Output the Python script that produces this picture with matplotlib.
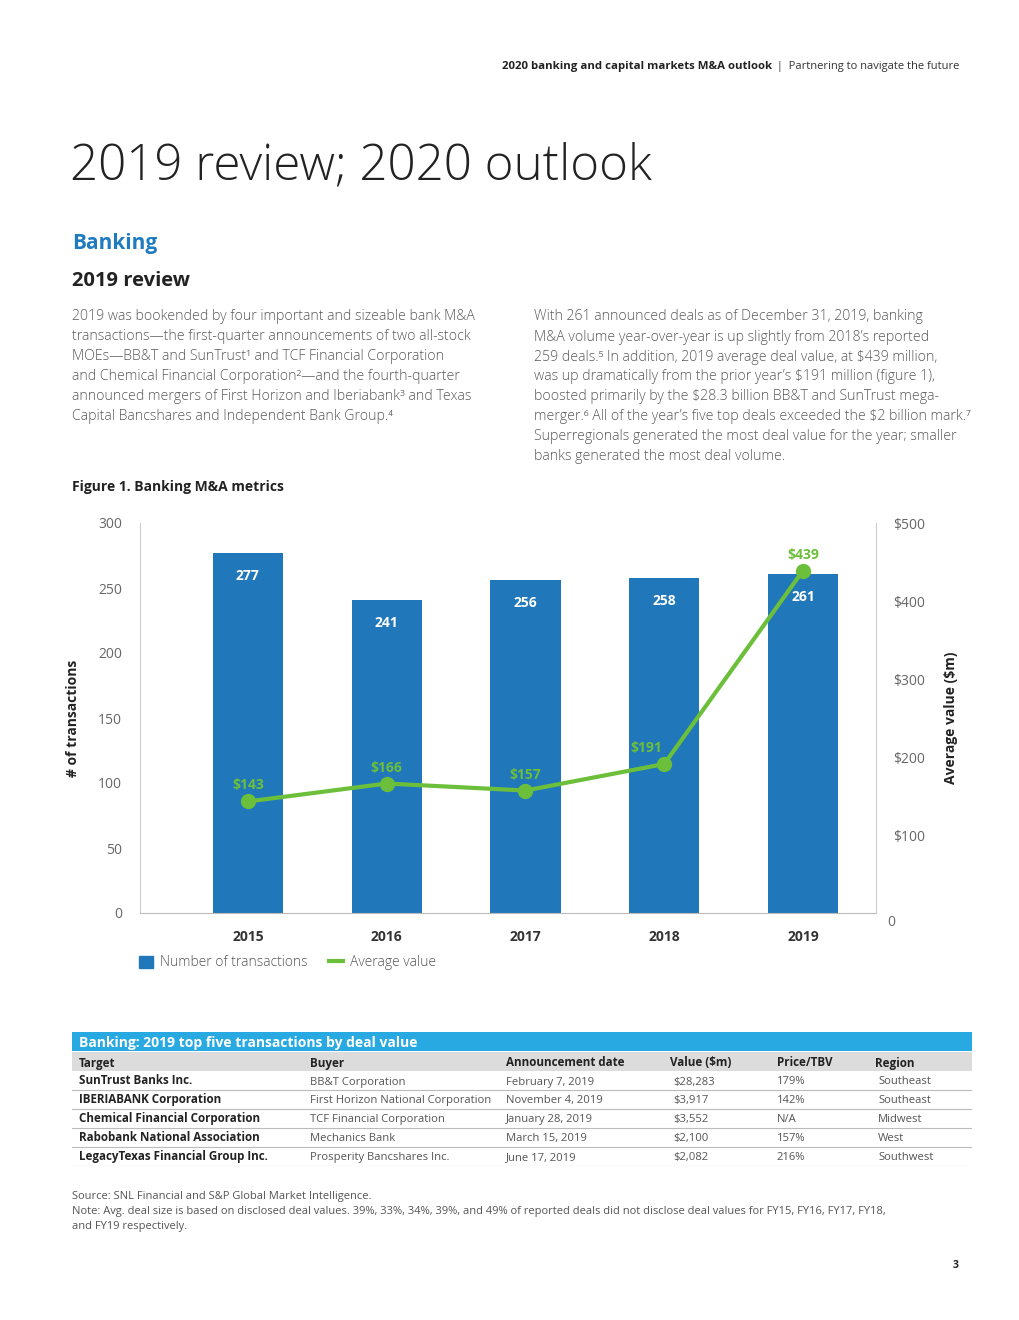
import matplotlib.pyplot as plt
from matplotlib.lines import Line2D
from matplotlib.patches import Rectangle
from matplotlib.transforms import offset_copy

plt.rcParams['font.family'] = ['Open Sans', 'DejaVu Sans']

# chart data
years = ['2015', '2016', '2017', '2018', '2019']
deals = [277, 241, 256, 258, 261]
avg_value = [143, 166, 157, 191, 439]
left_ticks = [0, 50, 100, 150, 200, 250, 300]
right_ticks = [100, 200, 300, 400, 500]

# table data
tbl_cols = ['Target', 'Buyer', 'Announcement date', 'Value ($m)', 'Price/TBV', 'Region']
targets = ['SunTrust Banks Inc.', 'IBERIABANK Corporation', 'Chemical Financial Corporation',
           'Rabobank National Association', 'LegacyTexas Financial Group Inc.']
buyers = ['BB&T Corporation', 'First Horizon National Corporation', 'TCF Financial Corporation',
          'Mechanics Bank', 'Prosperity Bancshares Inc.']
dates = ['February 7, 2019', 'November 4, 2019', 'January 28, 2019', 'March 15, 2019', 'June 17, 2019']
values = ['$28,283', '$3,917', '$3,552', '$2,100', '$2,082']
ptbv = ['179%', '142%', 'N/A', '157%', '216%']
regions = ['Southeast', 'Southeast', 'Midwest', 'West', 'Southwest']

left_par = [
    '2019 was bookended by four important and sizeable bank M&A',
    'transactions\u2014the first-quarter announcements of two all-stock',
    'MOEs\u2014BB&T and SunTrust\u00b9 and TCF Financial Corporation',
    'and Chemical Financial Corporation\u00b2\u2014and the fourth-quarter',
    'announced mergers of First Horizon and Iberiabank\u00b3 and Texas',
    'Capital Bancshares and Independent Bank Group.\u2074',
]
right_par = [
    'With 261 announced deals as of December 31, 2019, banking',
    'M&A volume year-over-year is up slightly from 2018\u2019s reported',
    '259 deals.\u2075 In addition, 2019 average deal value, at $439 million,',
    'was up dramatically from the prior year\u2019s $191 million (figure 1),',
    'boosted primarily by the $28.3 billion BB&T and SunTrust mega-',
    'merger.\u2076 All of the year\u2019s five top deals exceeded the $2 billion mark.\u2077',
    'Superregionals generated the most deal value for the year; smaller',
    'banks generated the most deal volume.',
]

BLUE = '#2077BA'
GREEN = '#6CBF3A'
GREY = '#5a5a5a'
W, H = 1020, 1320

fig = plt.figure(figsize=(10.2, 13.2), dpi=100)


def fx(x):
    return x / W


def fy(y):
    return 1 - y / H


# page header and text
fig.text(fx(772), fy(67), '2020 banking and capital markets M&A outlook', fontsize=8.2,
         fontweight='bold', color='#222222', va='center', ha='right')
fig.text(fx(959), fy(67), ' |  Partnering to navigate the future', fontsize=8,
         color='#333333', va='center', ha='right')
fig.text(fx(70), fy(166), '2019 review; 2020 outlook', fontsize=35.5, fontweight='light',
         color='#222222', va='center')
fig.text(fx(72), fy(244), 'Banking', fontsize=15, fontweight='bold', color='#1F7BC0', va='center')
fig.text(fx(72), fy(281), '2019 review', fontsize=14.5, fontweight='bold', color='#222222', va='center')

for i, line in enumerate(left_par):
    fig.text(fx(72), fy(316 + 20 * i), line, fontsize=10.2, fontweight='light', color=GREY, va='center')
for i, line in enumerate(right_par):
    fig.text(fx(534), fy(317 + 20 * i), line, fontsize=10.2, fontweight='light', color=GREY, va='center')

fig.text(fx(72), fy(487), 'Figure 1. Banking M&A metrics', fontsize=10, fontweight='bold',
         color='#222222', va='center')

# chart
ax = fig.add_axes([fx(140), fy(913), 736 / W, 390 / H])
x = list(range(len(years)))
bars = ax.bar(x, deals, width=0.505, color=BLUE, zorder=2)
ax.set_xlim(-0.778, 4.526)
ax.set_ylim(0, 300)
ax.set_yticks(left_ticks)
ax.set_xticks(x)
ax.set_xticklabels(years, fontweight='bold', color='#333333', fontsize=10)
ax.tick_params(axis='y', length=0, pad=13, labelsize=10, labelcolor='#666666')
ax.tick_params(axis='x', length=0, pad=12)
for s in ['top', 'right']:
    ax.spines[s].set_visible(False)
ax.spines['left'].set_color('#cccccc')
ax.spines['bottom'].set_color('#bbbbbb')
ax.set_ylabel('# of transactions', fontsize=10, fontweight='bold', color='#222222', labelpad=13)
for b, v in zip(bars, deals):
    ax.text(b.get_x() + b.get_width() / 2, v, str(v), ha='center', va='top', color='white',
            fontweight='bold', fontsize=10,
            transform=offset_copy(ax.transData, fig=fig, x=0, y=-16, units='dots'))

ax2 = ax.twinx()
line, = ax2.plot(x, avg_value, color=GREEN, lw=3, marker='o', ms=10, zorder=3)
ax2.set_ylim(0, 500)
ax2.set_yticks(right_ticks)
ax2.set_yticklabels(['$%d' % t for t in right_ticks])
ax2.tick_params(axis='y', length=0, pad=12, labelsize=10, labelcolor='#666666')
for s in ['top', 'left', 'bottom']:
    ax2.spines[s].set_visible(False)
ax2.spines['right'].set_color('#cccccc')
ax2.text(1.0, 0, '0', transform=offset_copy(ax2.get_yaxis_transform(), fig=fig, x=11, y=-9, units='dots'),
         fontsize=10, color='#666666', va='center', ha='left')
ax2.set_ylabel('Average value ($m)', fontsize=10, fontweight='bold', color='#222222', labelpad=14)
label_dx = [0, 0, 0, -18, 0]
for xi, v, dx in zip(x, avg_value, label_dx):
    ax2.text(xi, v, '$%d' % v, ha='center', va='bottom', color=GREEN, fontweight='bold', fontsize=10,
             transform=offset_copy(ax2.transData, fig=fig, x=dx, y=9, units='dots'))

handles = [Rectangle((0, 0), 1, 1, color=BLUE), Line2D([0], [0], color=GREEN, lw=3)]
fig.legend(handles, ['Number of transactions', 'Average value'], loc='center left',
           bbox_to_anchor=(fx(127), fy(963)), ncol=2, frameon=False,
           handlelength=1.0, handleheight=1.0, handletextpad=0.5, columnspacing=1.55,
           labelcolor='#555555', prop={'weight': 'light', 'size': 10})

# table
tx = fig.add_axes([fx(72), fy(1166), 900 / W, 134 / H])
tx.set_xlim(0, 900)
tx.set_ylim(134, 0)
tx.axis('off')
tx.add_patch(Rectangle((0, 0), 900, 19, color='#29A9E1', lw=0))
tx.add_patch(Rectangle((0, 20), 900, 19, color='#DCDCDC', lw=0))
tx.text(7, 14.5, 'Banking: 2019 top five transactions by deal value', color='white', fontweight='bold',
        fontsize=10, va='baseline')
col_x = [7, 238, 434, 598, 705, 803]
data_x = [7, 238, 434, 601, 705, 806]
for cx, c in zip(col_x, tbl_cols):
    tx.text(cx, 34.5, c, fontsize=8.4, fontweight='bold', color='#222222', va='baseline')
rows = list(zip(targets, buyers, dates, values, ptbv, regions))
for r, row in enumerate(rows):
    yc = 49 + 18.8 * r
    for c, (cx, val) in enumerate(zip(data_x, row)):
        if c == 0:
            tx.text(cx, yc + 3.5, val, fontsize=8.4, fontweight='bold', color='#222222', va='baseline')
        else:
            tx.text(cx, yc + 3.5, val, fontsize=8.1, color='#555555', va='baseline')
    tx.axhline(yc + 9.4, color='#bbbbbb', lw=0.8)

# footnotes
fig.text(fx(72), fy(1199), 'Source: SNL Financial and S&P Global Market Intelligence.', fontsize=8,
         color='#555555', va='baseline')
fig.text(fx(72), fy(1214), 'Note: Avg. deal size is based on disclosed deal values. 39%, 33%, 34%, 39%, and 49% '
         'of reported deals did not disclose deal values for FY15, FY16, FY17, FY18,', fontsize=8,
         color='#555555', va='baseline')
fig.text(fx(72), fy(1229), 'and FY19 respectively.', fontsize=8, color='#555555', va='baseline')
fig.text(fx(959), fy(1266), '3', fontsize=7.5, fontweight='bold', color='#222222', va='center', ha='right')

fig.savefig('out.png', dpi=100)
